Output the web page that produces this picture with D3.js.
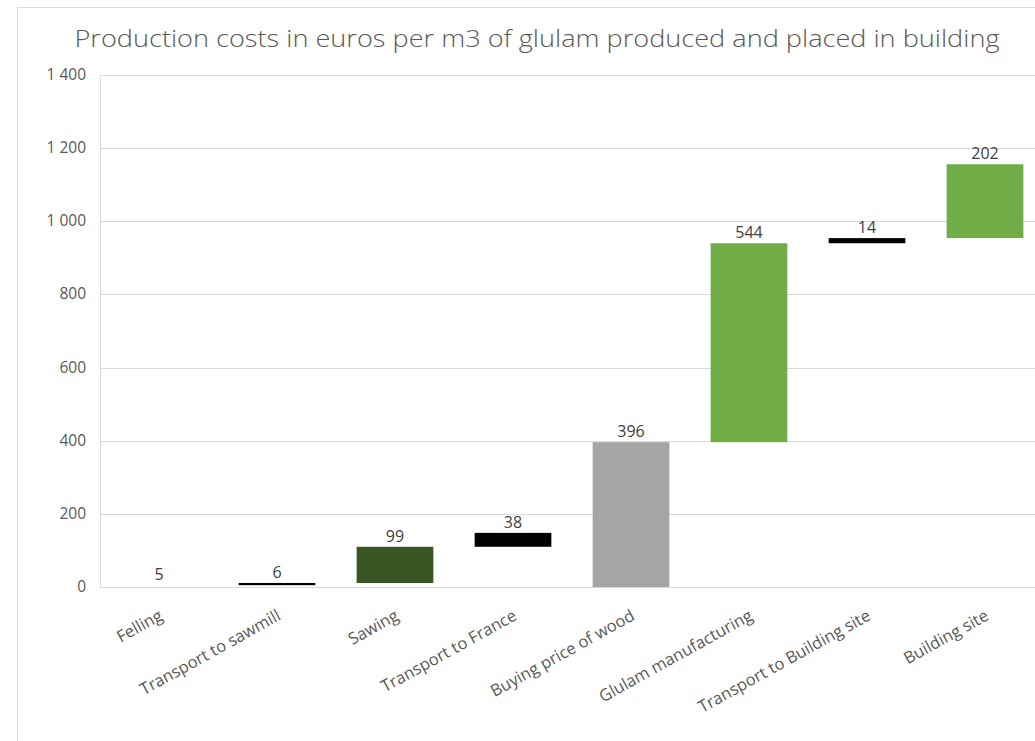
<!DOCTYPE html>
<html><head><meta charset="utf-8">
<script src="https://cdn.jsdelivr.net/npm/d3@7"></script>
<style>body{margin:0;background:#fff}svg{display:block}</style>
</head><body>
<svg id="c" width="1035" height="741"></svg>
<script>
const categories = ["Felling","Transport to sawmill","Sawing","Transport to France","Buying price of wood","Glulam manufacturing","Transport to Building site","Building site"];
const values = [5, 6, 99, 38, 396, 544, 14, 202];
const isTotal = [false, false, false, false, true, false, false, false];
const barColors = ["none","#000000","#375623","#000000","#A5A5A5","#70AD47","#000000","#70AD47"];
const yTicks = [0, 200, 400, 600, 800, 1000, 1200, 1400];
const title = "Production costs in euros per m3 of glulam produced and placed in building";

const svg = d3.select("#c");
// chart frame
svg.append("rect").attr("x",17.5).attr("y",7.5).attr("width",1100).attr("height",800)
  .attr("fill","none").attr("stroke","#D9D9D9");

const x = d3.scaleBand().domain(categories).range([100, 1044]).paddingInner(0.35).paddingOuter(0.175);
const y = d3.scaleLinear().domain([0, 1400]).range([587, 75]);

// waterfall segments
let run = 0;
const segs = values.map((v,i) => {
  let s, e;
  if (isTotal[i]) { s = 0; e = v; run = v; }
  else { s = run; e = run + v; run = e; }
  return {cat: categories[i], v, s, e, color: barColors[i]};
});

// gridlines
svg.append("g").selectAll("line").data(yTicks).join("line")
  .attr("x1",100).attr("x2",1044)
  .attr("y1",d=>Math.round(y(d))+0.5).attr("y2",d=>Math.round(y(d))+0.5)
  .attr("stroke","#D9D9D9").attr("stroke-width",1);
svg.append("line").attr("x1",100.5).attr("x2",100.5).attr("y1",y(1400)).attr("y2",y(0))
  .attr("stroke","#D9D9D9");

// y axis labels
svg.append("g").selectAll("text").data(yTicks).join("text")
  .attr("x",86).attr("y",d=>y(d)+5).attr("text-anchor","end")
  .attr("font-family","Open Sans, sans-serif").attr("font-size",15.5).attr("fill","#595959")
  .text(d=>d3.format(",")(d).replace(/,/g," "));

// bars
svg.append("g").selectAll("rect").data(segs).join("rect")
  .attr("x",d=>x(d.cat)).attr("width",x.bandwidth())
  .attr("y",d=>y(Math.max(d.s,d.e)))
  .attr("height",d=>Math.max(1.5, Math.abs(y(d.s)-y(d.e))))
  .attr("fill",d=>d.color);

// data labels
svg.append("g").selectAll("text").data(segs).join("text")
  .attr("x",d=>x(d.cat)+x.bandwidth()/2).attr("y",d=>y(Math.max(d.s,d.e))-5)
  .attr("text-anchor","middle")
  .attr("font-family","Open Sans, sans-serif").attr("font-size",16).attr("fill","#404040")
  .text(d=>d.v);

// x labels
svg.append("g").selectAll("text").data(categories).join("text")
  .attr("transform",d=>`translate(${x(d)+x.bandwidth()/2+2},${614}) rotate(-29)`)
  .attr("text-anchor","end").attr("dy","0.35em")
  .attr("font-family","Open Sans, sans-serif").attr("font-size",16.5).attr("fill","#595959")
  .text(d=>d);

// title
svg.append("text").attr("x",537).attr("y",47).attr("text-anchor","middle")
  .attr("font-family","Open Sans, sans-serif").attr("font-weight",300).attr("font-size",24).attr("fill","#595959")
  .attr("textLength",925).attr("lengthAdjust","spacingAndGlyphs")
  .text(title);
</script>
</body></html>
